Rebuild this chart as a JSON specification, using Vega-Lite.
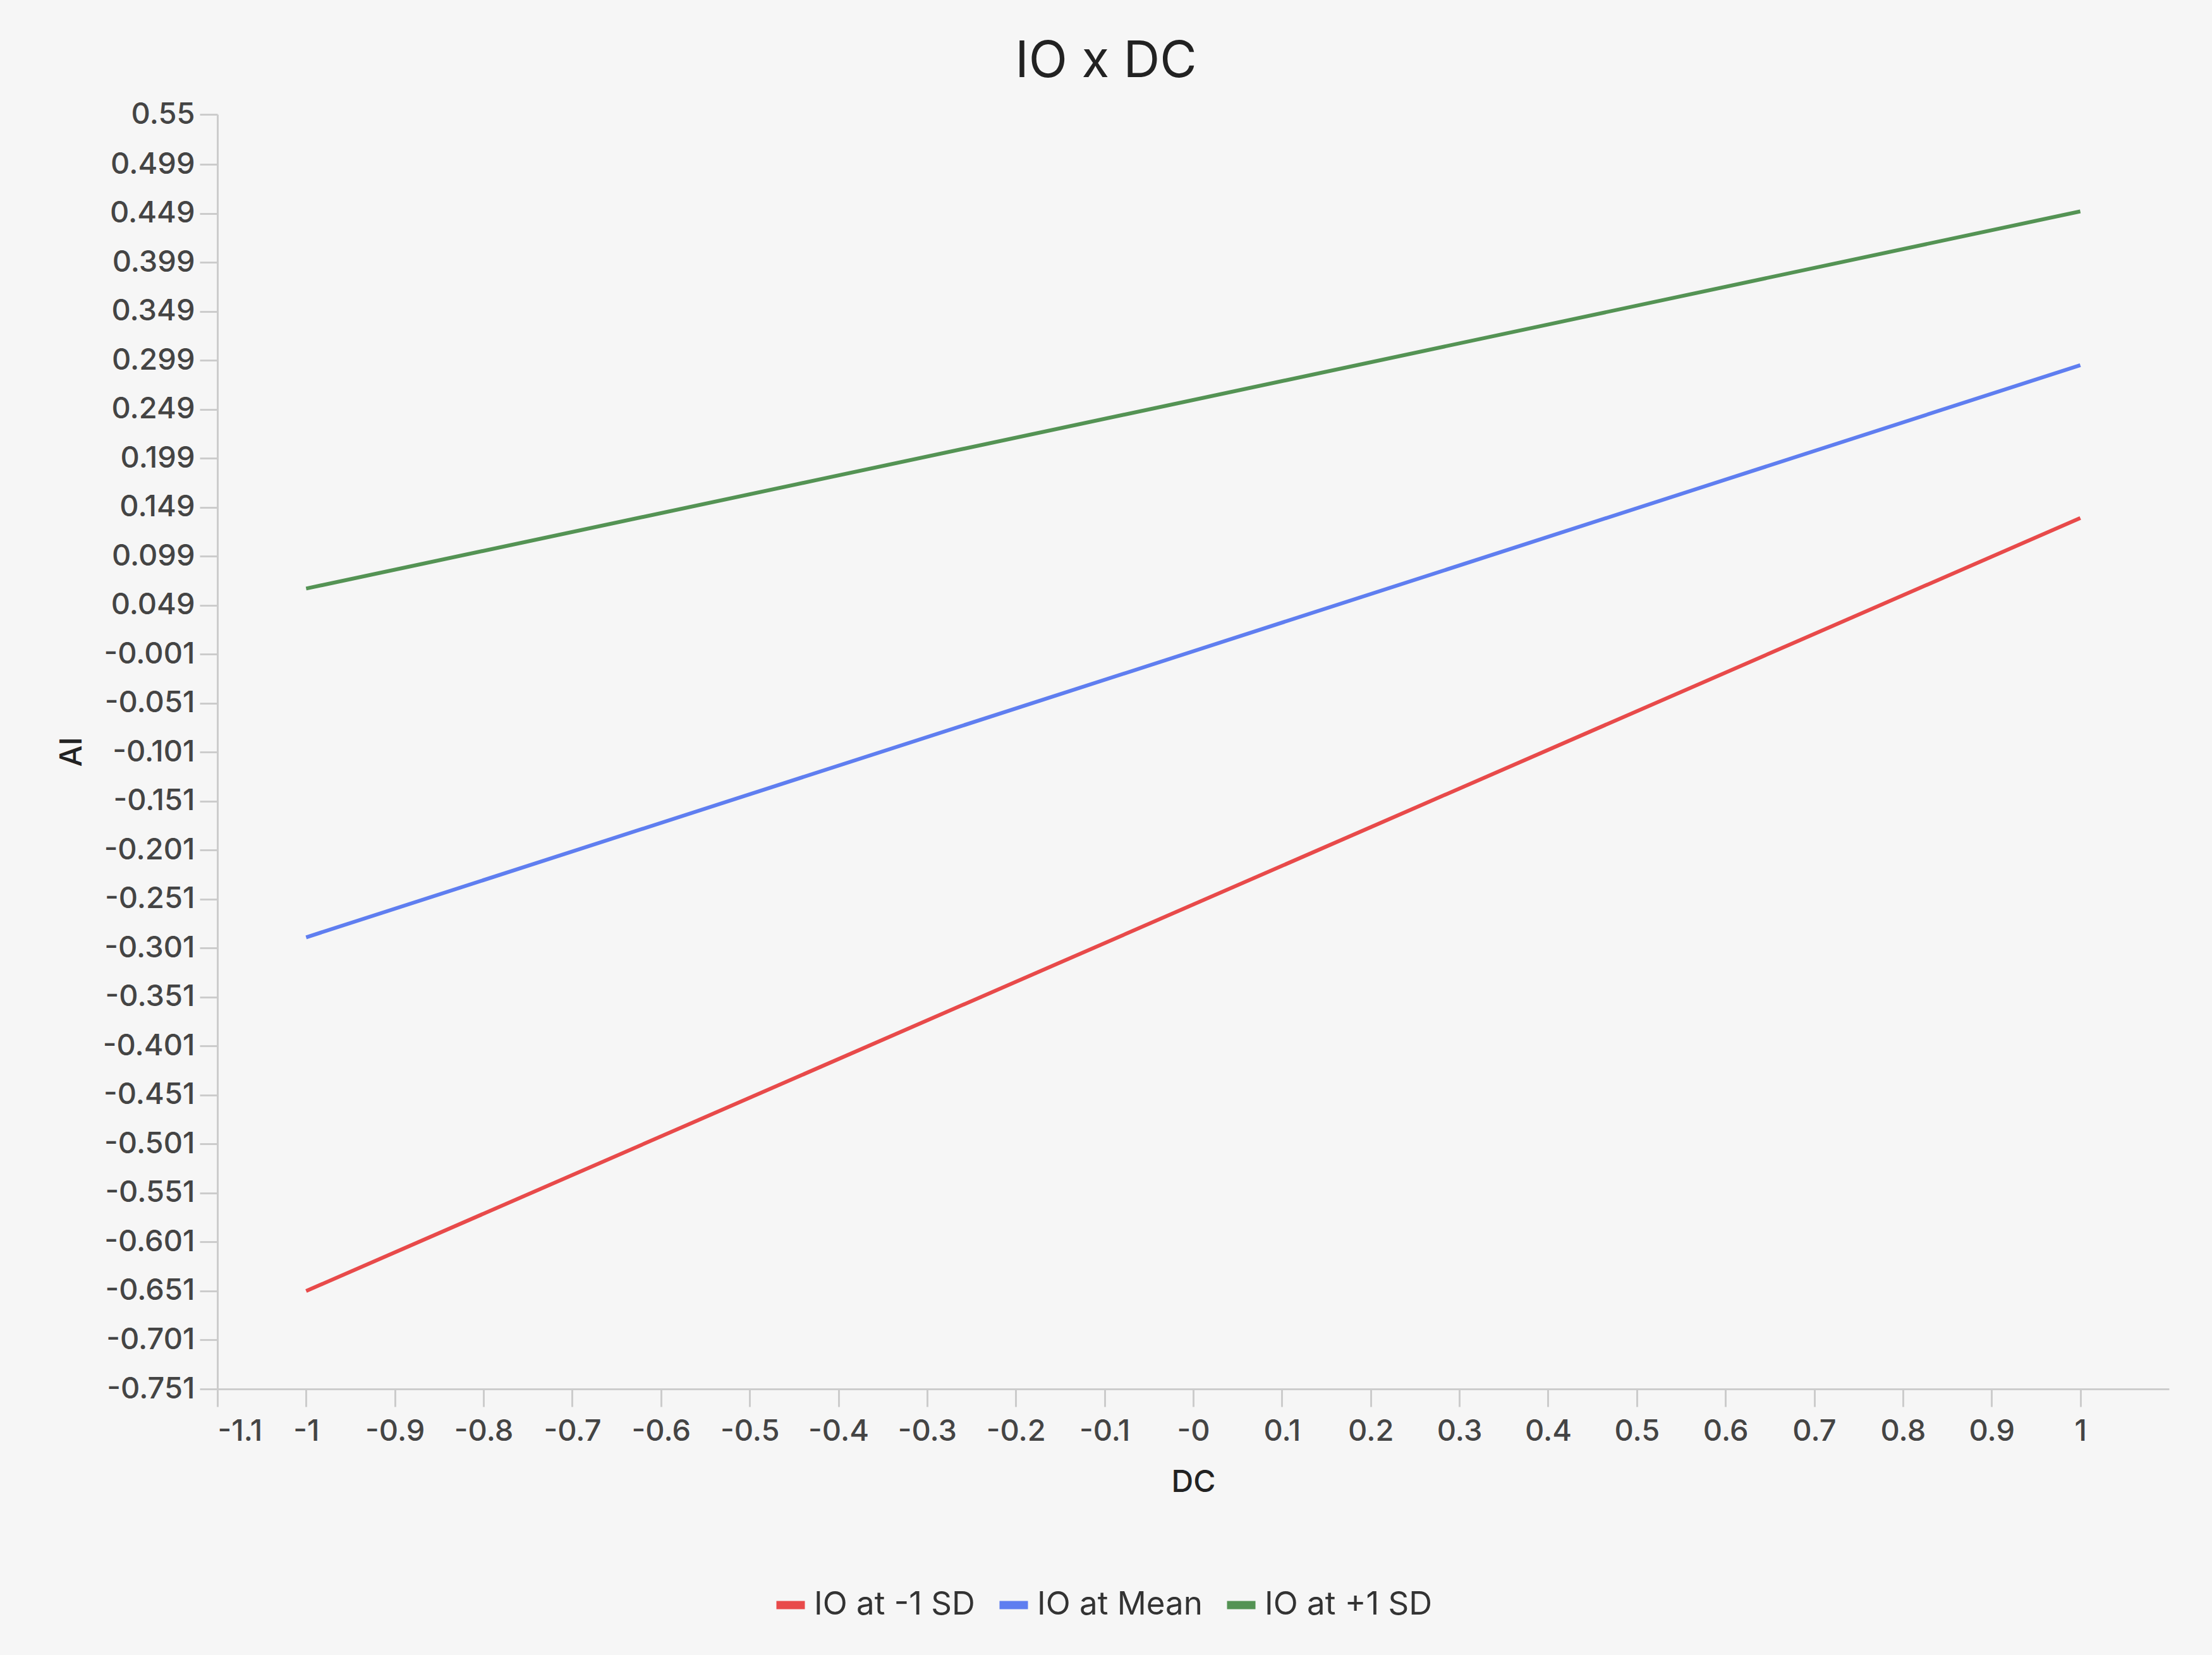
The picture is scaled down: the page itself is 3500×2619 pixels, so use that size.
{
  "$schema": "https://vega.github.io/schema/vega-lite/v6.json",
  "autosize": {"type": "none"},
  "width": 3088,
  "height": 2017,
  "padding": {"left": 344, "top": 181, "right": 68, "bottom": 421},
  "background": "#f6f6f6",
  "title": {"text": "IO x DC", "font": "Inter", "fontSize": 80, "fontWeight": "normal", "color": "#222222", "anchor": "middle", "dx": -138, "offset": 18},
  "data": {"values": [
    {"series": "IO at -1 SD", "DC": -1, "AI": -0.651},
    {"series": "IO at -1 SD", "DC": 1, "AI": 0.138},
    {"series": "IO at Mean", "DC": -1, "AI": -0.29},
    {"series": "IO at Mean", "DC": 1, "AI": 0.294},
    {"series": "IO at +1 SD", "DC": -1, "AI": 0.066},
    {"series": "IO at +1 SD", "DC": 1, "AI": 0.451}
  ]},
  "mark": {"type": "line", "strokeWidth": 6},
  "encoding": {
    "x": {"field": "DC", "type": "quantitative",
      "scale": {"domain": [-1.1, 1.1], "nice": false, "zero": false},
      "axis": {"title": "DC", "values": [-1.1,-1,-0.9,-0.8,-0.7,-0.6,-0.5,-0.4,-0.3,-0.2,-0.1,0,0.1,0.2,0.3,0.4,0.5,0.6,0.7,0.8,0.9,1],
        "labelExpr": "datum.value === 0 ? '-0' : toString(datum.value)", "labelPadding": 16, "titlePadding": 34}},
    "y": {"field": "AI", "type": "quantitative",
      "scale": {"domain": [-0.751, 0.55], "nice": false, "zero": false},
      "axis": {"title": "AI", "values": [-0.751,-0.701,-0.651,-0.601,-0.551,-0.501,-0.451,-0.401,-0.351,-0.301,-0.251,-0.201,-0.151,-0.101,-0.051,-0.001,0.049,0.099,0.149,0.199,0.249,0.299,0.349,0.399,0.449,0.499,0.55],
        "labelExpr": "toString(datum.value)", "titlePadding": 24}},
    "color": {"field": "series", "type": "nominal",
      "scale": {"domain": ["IO at -1 SD", "IO at Mean", "IO at +1 SD"], "range": ["#e84a4a", "#5f7ef0", "#549354"]},
      "legend": {"title": null, "orient": "none", "direction": "horizontal", "legendX": 878, "legendY": 2330,
        "symbolType": "stroke", "symbolSize": 2025, "symbolStrokeWidth": 13,
        "labelFont": "Inter", "labelFontSize": 51, "labelColor": "#333333", "labelOffset": 8, "labelLimit": 0, "columnPadding": 12}}
  },
  "config": {
    "view": {"stroke": null},
    "axis": {"grid": false, "domainColor": "#cccccc", "domainWidth": 3, "tickColor": "#cccccc", "tickWidth": 3, "tickSize": 28,
      "labelFont": "Inter", "labelFontSize": 47, "labelFontWeight": 500, "labelColor": "#444444", "labelPadding": 8,
      "titleFont": "Inter", "titleFontSize": 48, "titleFontWeight": 500, "titleColor": "#222222"},
    "axisY": {"labelAngle": 0}
  }
}
